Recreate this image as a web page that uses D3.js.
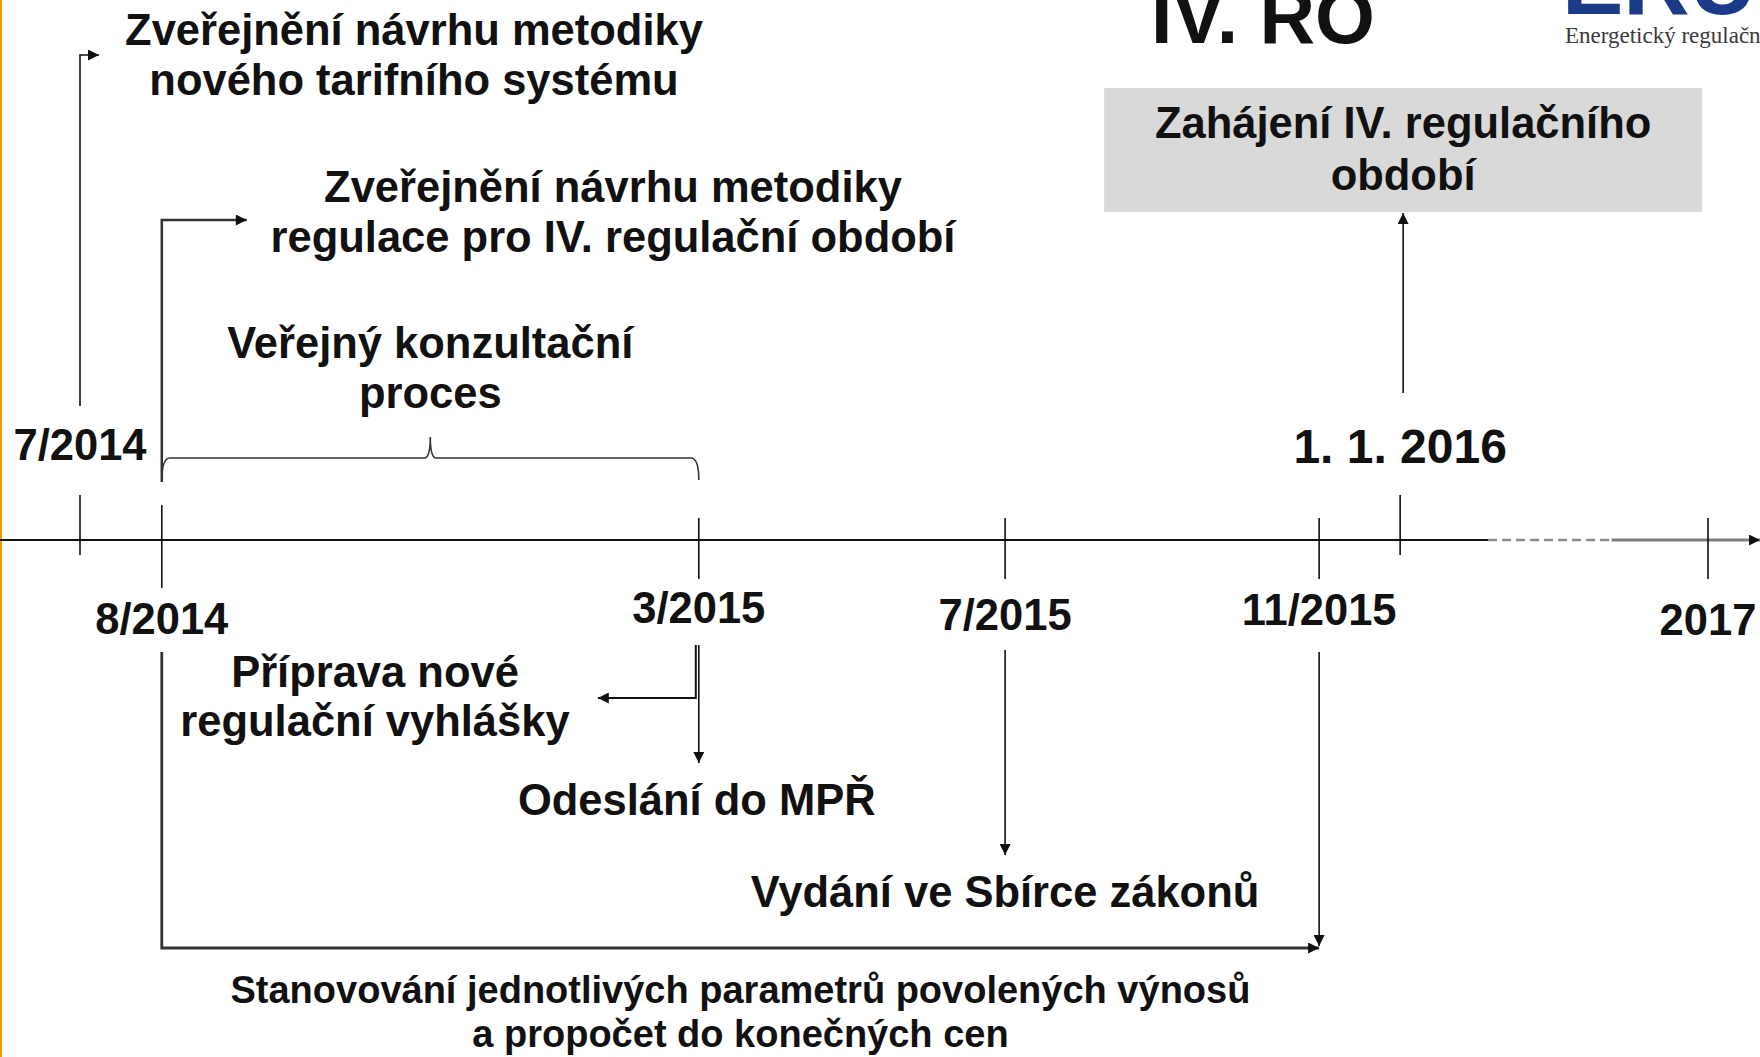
<!DOCTYPE html>
<html>
<head>
<meta charset="utf-8">
<script src="https://cdn.jsdelivr.net/npm/d3@7/dist/d3.min.js"></script>
<style>
  body { margin: 0; background: #fff; }
  svg { display: block; }
  text { font-family: "Liberation Sans", Arial, sans-serif; font-weight: bold; fill: #111; }
</style>
</head>
<body>
<svg id="chart"></svg>
<script>
// milestones on the time line (axis is not to scale, positions)
var dateLabels = ["7/2014", "8/2014", "3/2015", "7/2015", "11/2015", "1. 1. 2016", "2017"];
var datePos    = [0, 1.06, 8.02, 11.99, 16.06, 17.11, 21.1];
var dateSide   = ["up", "down", "down", "down", "down", "up", "down"];

// captions
var capTarif    = ["Zveřejnění návrhu metodiky", "nového tarifního systému"];
var capRegul    = ["Zveřejnění návrhu metodiky", "regulace pro IV. regulační období"];
var capKonzult  = ["Veřejný konzultační", "proces"];
var capStart    = ["Zahájení IV. regulačního", "období"];
var capPriprava = ["Příprava nové", "regulační vyhlášky"];
var capOdeslani = ["Odeslání do MPŘ"];
var capVydani   = ["Vydání ve Sbírce zákonů"];
var capStanov   = ["Stanovování jednotlivých parametrů povolených výnosů", "a propočet do konečných cen"];
var slideTitle  = "IV. RO";
var logoMark    = "ERÚ";
var logoText    = "Energetický regulační úřad";

// where the axis breaks (dashed part)
var axisBreak = [18.25, 19.85];

var W = 1760, H = 1057, axisY = 540;
var fs = 43.5; // main text size

var svg = d3.select("#chart").attr("width", W).attr("height", H);

var x = d3.scaleLinear().domain([0, 21.1]).range([80, 1708]);

// arrow head
svg.append("defs").append("marker")
    .attr("id", "head")
    .attr("viewBox", "0 0 10 10")
    .attr("refX", 10).attr("refY", 5)
    .attr("markerWidth", 12).attr("markerHeight", 11)
    .attr("markerUnits", "userSpaceOnUse")
    .attr("orient", "auto")
  .append("path")
    .attr("d", "M0,0L10,5L0,10z")
    .attr("fill", "#111");

// orange slide border on the left
svg.append("rect").attr("x", 0).attr("y", 0).attr("width", 2).attr("height", H).attr("fill", "#f39a00");

// title + logo (cut by the top edge)
svg.append("text").attr("x", 1151).attr("y", 43).style("font-size", "77px").text(slideTitle);
svg.append("text").attr("x", 1562).attr("y", 14)
    .style("font-size", "92px").style("fill", "#1b3a87").text(logoMark);
svg.append("text").attr("x", 1565).attr("y", 43)
    .style("font-family", "'Liberation Serif', 'DejaVu Serif', serif")
    .style("font-weight", "normal").style("font-size", "23px").style("fill", "#3a3a3a")
    .text(logoText);

// grey box for the start of the period
var xStart = x(datePos[5]);
svg.append("rect").attr("x", xStart - 296).attr("y", 88).attr("width", 598).attr("height", 124).attr("fill", "#d9d9d9");

function caption(lines, cx, y0, size, lh) {
    var t = svg.append("text").attr("text-anchor", "middle").style("font-size", size + "px");
    t.selectAll("tspan").data(lines).enter().append("tspan")
        .attr("x", cx)
        .attr("y", function(d, i) { return y0 + i * lh; })
        .text(function(d) { return d; });
    return t;
}

// the axis: solid, dashed, then grey with arrow
var xb0 = x(axisBreak[0]), xb1 = x(axisBreak[1]);
svg.append("line").attr("x1", 0).attr("x2", xb0).attr("y1", axisY).attr("y2", axisY)
    .attr("stroke", "#111").attr("stroke-width", 2);
svg.append("line").attr("x1", xb0).attr("x2", xb1).attr("y1", axisY).attr("y2", axisY)
    .attr("stroke", "#8c8c8c").attr("stroke-width", 2.5).attr("stroke-dasharray", "9,5");
svg.append("line").attr("x1", xb1).attr("x2", W).attr("y1", axisY).attr("y2", axisY)
    .attr("stroke", "#7f7f7f").attr("stroke-width", 3.2).attr("marker-end", "url(#head)");

// ticks + date labels
var ms = dateLabels.map(function(d, i) { return { label: d, pos: datePos[i], side: dateSide[i] }; });
var tickExt = function(d, i) {
    if (d.side === "up") return [-45, 15];
    if (i === 1) return [-35, 48];
    return [-22, 39];
};
var labelY = [460, 634, 623, 630, 625, 463, 635];

svg.selectAll("line.tick").data(ms).enter().append("line")
    .attr("class", "tick")
    .attr("x1", function(d) { return x(d.pos); })
    .attr("x2", function(d) { return x(d.pos); })
    .attr("y1", function(d, i) { return axisY + tickExt(d, i)[0]; })
    .attr("y2", function(d, i) { return axisY + tickExt(d, i)[1]; })
    .attr("stroke", "#111").attr("stroke-width", 1.6);

svg.selectAll("text.date").data(ms).enter().append("text")
    .attr("class", "date")
    .attr("text-anchor", "middle")
    .attr("x", function(d) { return x(d.pos); })
    .attr("y", function(d, i) { return labelY[i]; })
    .style("font-size", function(d, i) { return i === 5 ? "48px" : fs + "px"; })
    .text(function(d) { return d.label; });

// connectors
var x7 = x(datePos[0]), x8 = x(datePos[1]), x3 = x(datePos[2]), x715 = x(datePos[3]), x11 = x(datePos[4]);
var conn = [
    { d: "M" + x7 + ",406V55H" + (x7 + 19), w: 1.6 },
    { d: "M" + x8 + ",482V220H" + (x8 + 85), w: 2.5 },
    { d: "M" + (xStart + 3) + ",393V213", w: 1.6 },
    { d: "M" + (x3 - 3) + ",645V698H" + (x3 - 101), w: 2 },
    { d: "M" + x3 + ",645V763", w: 1.6 },
    { d: "M" + x715 + ",650V855", w: 1.6 },
    { d: "M" + x8 + ",652V948H" + x11, w: 2.8 },
    { d: "M" + x11 + ",652V946", w: 1.6 }
];
svg.selectAll("path.conn").data(conn).enter().append("path")
    .attr("class", "conn")
    .attr("d", function(d) { return d.d; })
    .attr("fill", "none")
    .attr("stroke", function(d) { return d.w > 2 ? "#333" : "#111"; })
    .attr("stroke-width", function(d) { return d.w; })
    .attr("marker-end", "url(#head)");

// curly brace over the consultation period
var xm = (x8 + x3) / 2;
svg.append("path")
    .attr("d", "M" + x8 + ",482Q" + x8 + ",458 " + (x8 + 8) + ",458H" + (xm - 6) +
               "Q" + xm + ",458 " + xm + ",437Q" + xm + ",458 " + (xm + 6) + ",458H" + (x3 - 8) +
               "Q" + x3 + ",458 " + x3 + ",480")
    .attr("fill", "none").attr("stroke", "#333").attr("stroke-width", 1.6);

// captions
caption(capTarif, 414, 45, fs, 50);
caption(capRegul, 613, 202, fs, 50);
caption(capKonzult, xm, 358, fs, 50);
caption(capStart, xStart + 3, 138, fs, 52);
caption(capPriprava, 375, 687, fs, 49);
caption(capOdeslani, x3 - 2, 815, fs, 49);
caption(capVydani, x715, 907, fs, 49);
caption(capStanov, (x8 + x11) / 2, 1003, 38, 44);
</script>
</body>
</html>
